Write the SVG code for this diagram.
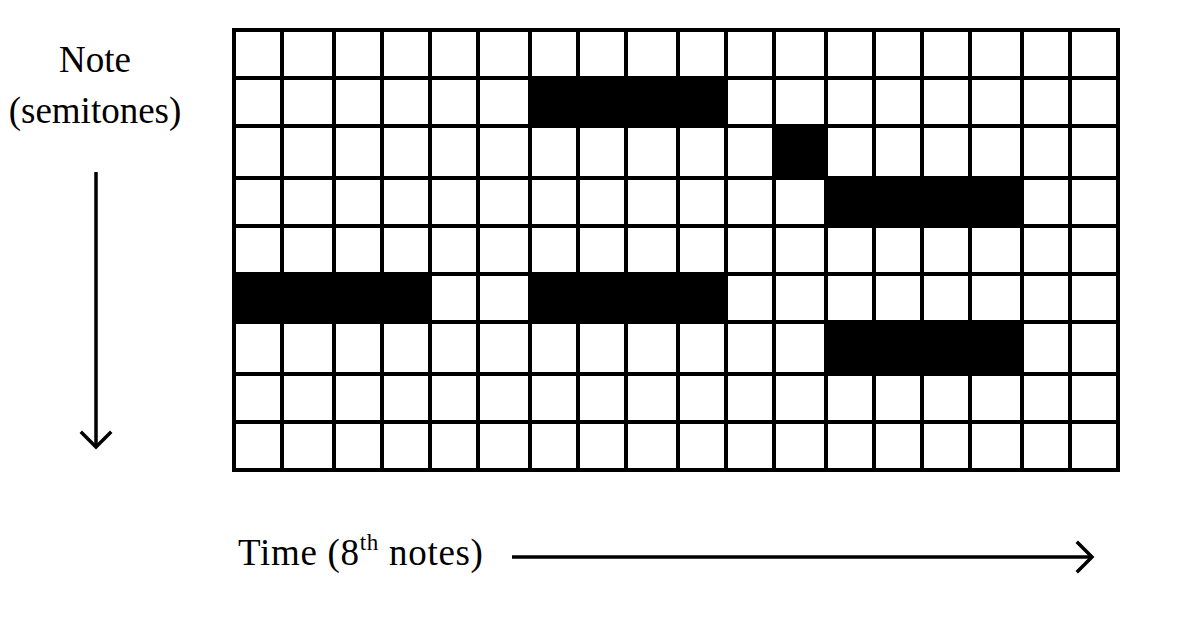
<svg xmlns="http://www.w3.org/2000/svg" width="1192" height="644" viewBox="0 0 1192 644">
<style>
.lbl{font-family:"Liberation Serif","Times New Roman",serif;font-size:37px;fill:#000}
.grid{fill:none;stroke:#000;stroke-width:4}
.on{fill:#000}
.arr{fill:none;stroke:#000;stroke-width:3.5}
</style>
<defs>
<marker id="chev" markerUnits="userSpaceOnUse" markerWidth="40" markerHeight="40" viewBox="-20 -20 40 40" refX="0" refY="0" orient="auto">
<path d="M-14,-14 L0,0 L-14,14" fill="none" stroke="#000" stroke-width="3.5" stroke-linecap="square"/>
</marker>
</defs>
<rect width="1192" height="644" fill="#fff"/>
<g id="piano-roll">
<g id="notes">
<rect class="on" x="530" y="78" width="196" height="48"/>
<rect class="on" x="774" y="126" width="52" height="52"/>
<rect class="on" x="826" y="178" width="196" height="48"/>
<rect class="on" x="234" y="274" width="196" height="48"/>
<rect class="on" x="530" y="274" width="196" height="48"/>
<rect class="on" x="826" y="322" width="196" height="52"/>
</g>
<path class="grid" d="M282,30V470M334,30V470M382,30V470M430,30V470M478,30V470M530,30V470M578,30V470M626,30V470M678,30V470M726,30V470M774,30V470M826,30V470M874,30V470M922,30V470M970,30V470M1022,30V470M1070,30V470M234,78H1118M234,126H1118M234,178H1118M234,226H1118M234,274H1118M234,322H1118M234,374H1118M234,422H1118"/>
<rect class="grid" x="234" y="30" width="884" height="440"/>
</g>
<g id="y-label">
<text class="lbl" x="95" y="72" text-anchor="middle">Note</text>
<text class="lbl" x="95" y="123" text-anchor="middle">(semitones)</text>
</g>
<g id="x-label">
<text class="lbl" x="238" y="565" letter-spacing="0.7">Time (8<tspan font-size="23" dy="-15">th</tspan><tspan dy="15"> notes)</tspan></text>
</g>
<g id="connectors">
<line class="arr" x1="96" y1="172" x2="96" y2="447" marker-end="url(#chev)"/>
<line class="arr" x1="512" y1="557" x2="1092" y2="557" marker-end="url(#chev)"/>
</g>
</svg>
